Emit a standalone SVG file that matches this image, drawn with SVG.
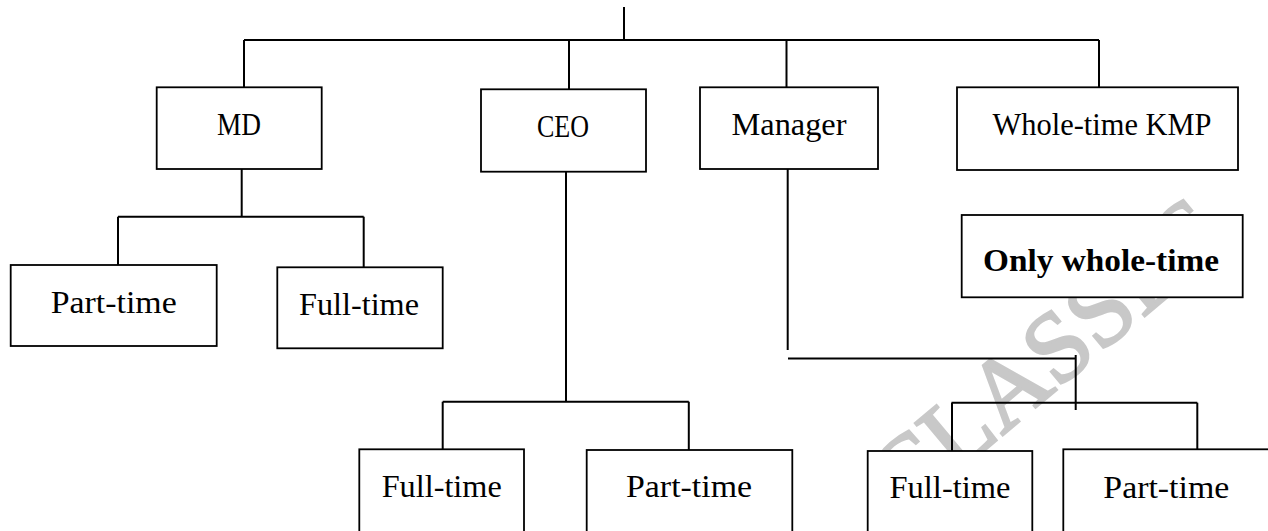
<svg xmlns="http://www.w3.org/2000/svg" width="1268" height="531" viewBox="0 0 1268 531">
  <style>
    .box { fill: #ffffff; stroke: #000000; stroke-width: 1.8; }
    .lbl { font-family: "Liberation Serif", "Times New Roman", serif; font-size: 32px; fill: #000000; text-anchor: middle; }
    .bold { font-weight: bold; }
    .wire { fill: none; stroke: #000000; stroke-width: 2; stroke-linecap: butt; }
    .mark { font-family: "Liberation Serif", "Times New Roman", serif; font-size: 100px; fill: #c8c8c8; stroke: #c8c8c8; stroke-width: 2.5; }
  </style>
  <rect width="1268" height="531" fill="#ffffff"/>

  <!-- faint background watermark, sits under the boxes -->
  <text class="mark" x="0" y="0" transform="translate(904 518) rotate(-40)">CLASSES</text>

  <!-- connectors -->
  <g id="connectors">
    <path class="wire" d="M624 7 V40"/>
    <path class="wire" d="M244 40 H1099"/>
    <path class="wire" d="M244 40 V87.3"/>
    <path class="wire" d="M569 40 V89.3"/>
    <path class="wire" d="M786.5 40 V87.3"/>
    <path class="wire" d="M1099 40 V87.3"/>
    <!-- MD branch -->
    <path class="wire" d="M241.7 169 V216.7"/>
    <path class="wire" d="M118 216.7 H363.7"/>
    <path class="wire" d="M118 216.7 V265"/>
    <path class="wire" d="M363.7 216.7 V267.3"/>
    <!-- CEO branch -->
    <path class="wire" d="M566 171.7 V401.7"/>
    <path class="wire" d="M442.7 401.7 H688.8"/>
    <path class="wire" d="M442.7 401.7 V449.3"/>
    <path class="wire" d="M688.8 401.7 V453.3"/>
    <!-- Manager branch -->
    <path class="wire" d="M787.7 169 V350"/>
    <path class="wire" d="M788 358.5 H1075.7"/>
    <path class="wire" d="M1075.7 355 V410"/>
    <path class="wire" d="M951.5 402.7 H1197.3"/>
    <path class="wire" d="M952 402.7 V451"/>
    <path class="wire" d="M1197.3 402.7 V451.7"/>
  </g>

  <g id="md">
    <rect class="box" x="156.7" y="87.3" width="165" height="81.7"/>
    <text class="lbl" x="239" y="135" textLength="44" lengthAdjust="spacingAndGlyphs">MD</text>
  </g>
  <g id="ceo">
    <rect class="box" x="481" y="89.3" width="165" height="82.4"/>
    <text class="lbl" x="563" y="137" textLength="52" lengthAdjust="spacingAndGlyphs">CEO</text>
  </g>
  <g id="manager">
    <rect class="box" x="700" y="87.3" width="178" height="81.7"/>
    <text class="lbl" x="789" y="135" textLength="115" lengthAdjust="spacingAndGlyphs">Manager</text>
  </g>
  <g id="kmp">
    <rect class="box" x="957" y="87.3" width="281" height="82.7"/>
    <text class="lbl" x="1102" y="135" textLength="219" lengthAdjust="spacingAndGlyphs">Whole-time KMP</text>
  </g>
  <g id="only-whole-time">
    <rect class="box" x="961.7" y="215" width="281" height="82.3"/>
    <text class="lbl bold" x="1101" y="271" textLength="236" lengthAdjust="spacingAndGlyphs">Only whole-time</text>
  </g>
  <g id="md-part-time">
    <rect class="box" x="10.7" y="265" width="206" height="81"/>
    <text class="lbl" x="113.7" y="313.3" textLength="126" lengthAdjust="spacingAndGlyphs">Part-time</text>
  </g>
  <g id="md-full-time">
    <rect class="box" x="277.3" y="267.3" width="165.4" height="81"/>
    <text class="lbl" x="359" y="315" textLength="120" lengthAdjust="spacingAndGlyphs">Full-time</text>
  </g>
  <g id="ceo-full-time">
    <rect class="box" x="359.3" y="449.3" width="164.7" height="100"/>
    <text class="lbl" x="441.7" y="496.7" textLength="120" lengthAdjust="spacingAndGlyphs">Full-time</text>
  </g>
  <g id="ceo-part-time">
    <rect class="box" x="586.7" y="450" width="205.6" height="100"/>
    <text class="lbl" x="689" y="497" textLength="126" lengthAdjust="spacingAndGlyphs">Part-time</text>
  </g>
  <g id="manager-full-time">
    <rect class="box" x="867.7" y="451" width="164.6" height="100"/>
    <text class="lbl" x="950" y="498" textLength="121" lengthAdjust="spacingAndGlyphs">Full-time</text>
  </g>
  <g id="manager-part-time">
    <rect class="box" x="1063.3" y="449.3" width="205.6" height="100"/>
    <text class="lbl" x="1166.3" y="498" textLength="126" lengthAdjust="spacingAndGlyphs">Part-time</text>
  </g>
</svg>
